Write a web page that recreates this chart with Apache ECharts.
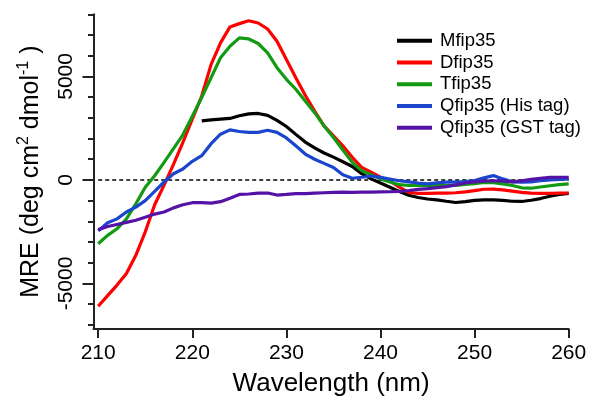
<!DOCTYPE html>
<html lang="en">
<head>
  <meta charset="UTF-8">
  <script src="https://cdn.jsdelivr.net/npm/echarts@6/dist/echarts.min.js"></script>
  <style>
    body { margin: 0; background: #fff; }
    #container { width: 590px; height: 402px; }
  </style>
</head>
<body>
  <div id="container"></div>
  <script>
    // wavelength 210..260 nm, 1 nm step
    var wavelengths = [];
    for (var w = 210; w <= 260; w++) wavelengths.push(w);

    var seriesNames = ['Mfip35', 'Dfip35', 'Tfip35', 'Qfip35 (His tag)', 'Qfip35 (GST tag)'];
    var seriesColors = ['#000000', '#ff0000', '#129a12', '#1a45cc', '#5512a6'];

    // Mfip35 starts at 221 nm
    var mfip35 = [null, null, null, null, null, null, null, null, null, null, null,
      2850, 2900, 2940, 2970, 3100, 3190, 3210, 3120, 2880, 2580,
      2200, 1830, 1550, 1300, 1100, 880, 650, 300, 50, -150,
      -350, -560, -740, -850, -920, -960, -1030, -1090, -1050, -990,
      -960, -960, -990, -1030, -1040, -980, -900, -790, -700, -650];
    var dfip35 = [-6100, -5590, -5080, -4520, -3640, -2510, -1200, -250, 750, 1810,
      2930, 4050, 5580, 6620, 7390, 7550, 7690, 7580, 7290, 6700,
      5820, 4940, 4090, 3330, 2610, 2130, 1650, 1090, 610, 370,
      130, -50, -350, -600, -650, -650, -640, -640, -620, -580,
      -520, -450, -440, -480, -540, -600, -640, -650, -650, -640, -630];
    var tfip35 = [-3080, -2680, -2360, -1880, -1150, -350, 200, 850, 1510, 2180,
      3080, 3980, 4940, 5900, 6460, 6860, 6810, 6590, 6140, 5420,
      4860, 4380, 3810, 3250, 2610, 2050, 1450, 850, 450, 250,
      50, -100, -230, -270, -270, -270, -270, -270, -260, -220,
      -180, -120, -130, -190, -270, -380, -400, -340, -280, -230, -190];
    var qfip35His = [-2460, -2070, -1880, -1550, -1310, -1000, -550, -100, 300, 530,
      900, 1170, 1750, 2210, 2420, 2340, 2300, 2300, 2400, 2300,
      2030, 1650, 1250, 1000, 800, 600, 250, 80, 130, 190,
      120, 40, -40, -90, -150, -190, -140, -110, -110, -80,
      -30, 100, 210, 50, -90, -110, -90, -40, 0, 30, 50];
    var qfip35Gst = [-2400, -2250, -2150, -2050, -1950, -1800, -1650, -1550, -1350, -1200,
      -1100, -1100, -1120, -1050, -880, -700, -680, -640, -630, -730,
      -700, -660, -660, -640, -620, -600, -590, -600, -590, -590,
      -580, -570, -550, -510, -460, -420, -370, -320, -240, -150,
      -90, -60, -40, -60, -90, -40, 30, 80, 120, 130, 130];
    var seriesValues = [mfip35, dfip35, tfip35, qfip35His, qfip35Gst];

    var xTicks = [210, 220, 230, 240, 250, 260];
    var yTicks = [];
    for (var t = -7000; t <= 8000; t += 1000) yTicks.push(t);
    var yLabels = [-5000, 0, 5000];

    var font = 'Liberation Sans, Arial, sans-serif';

    var myChart = echarts.init(document.getElementById('container'));

    var series = seriesNames.map(function (name, i) {
      return {
        name: name,
        type: 'line',
        showSymbol: false,
        symbol: 'none',
        lineStyle: { color: seriesColors[i], width: 3.2 },
        itemStyle: { color: seriesColors[i] },
        data: wavelengths.map(function (x, j) {
          return [x, seriesValues[i][j]];
        }),
        z: 3 + i
      };
    });
    // zero reference line
    series[0].markLine = {
      silent: true,
      symbol: 'none',
      label: { show: false },
      lineStyle: { color: '#000', type: [4, 3], width: 1.5 },
      data: [[{ coord: [210, 0] }, { coord: [260, 0] }]]
    };

    var option = {
      animation: false,
      backgroundColor: '#fff',
      grid: { left: 93.5, right: 21.3, top: 14.3, bottom: 71.2 },
      legend: {
        orient: 'vertical',
        left: 392,
        top: 25,
        icon: 'rect',
        itemWidth: 35,
        itemHeight: 4,
        itemGap: 0,
        textStyle: { fontFamily: font, fontSize: 18.5, color: '#000', lineHeight: 21.7, padding: [0, 0, 0, 3] },
        data: seriesNames
      },
      xAxis: {
        type: 'value',
        min: 209.5,
        max: 260,
        name: 'Wavelength (nm)',
        nameLocation: 'middle',
        nameGap: 42,
        nameTextStyle: { fontFamily: font, fontSize: 26, color: '#000' },
        axisLine: { onZero: false, lineStyle: { color: '#222', width: 2 } },
        axisTick: { customValues: xTicks, length: 9, lineStyle: { color: '#222', width: 2 } },
        axisLabel: { customValues: xTicks, fontFamily: font, fontSize: 21, color: '#000', margin: 14 },
        splitLine: { show: false }
      },
      yAxis: [{
        type: 'value',
        min: -7200,
        max: 8000,
        position: 'left',
        offset: 0,
        name: 'MRE (deg cm{sup|2} dmol{sup|-1} )',
        nameLocation: 'middle',
        nameRotate: 90,
        nameGap: 45,
        nameTextStyle: {
          fontFamily: font, fontSize: 25, color: '#000', lineHeight: 32,
          rich: { sup: { fontFamily: font, fontSize: 16, color: '#000', verticalAlign: 'top', lineHeight: 20 } }
        },
        axisLine: { onZero: false, lineStyle: { color: '#222', width: 2 } },
        axisTick: { customValues: yTicks, length: 5.5, lineStyle: { color: '#222', width: 2 } },
        axisLabel: {
          customValues: yLabels, rotate: 90, fontFamily: font, fontSize: 21, color: '#000', margin: 17,
          formatter: function (v) { return String(v); }
        },
        splitLine: { show: false }
      }, {
        type: 'value',
        min: -7200,
        max: 8000,
        position: 'left',
        offset: 0,
        axisLine: { show: false, onZero: false },
        axisTick: { customValues: yLabels, length: 11, lineStyle: { color: '#222', width: 2 } },
        axisLabel: { show: false },
        splitLine: { show: false }
      }],
      series: series
    };
    myChart.setOption(option);
  </script>
</body>
</html>
